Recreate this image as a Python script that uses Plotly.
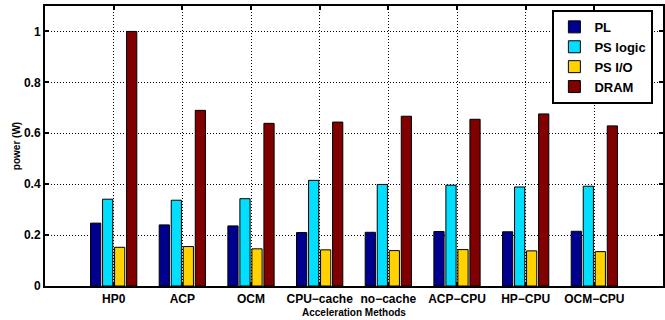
import plotly.graph_objects as go

categories = ["HP0", "ACP", "OCM", "CPU\u2212cache", "no\u2212cache", "ACP\u2212CPU", "HP\u2212CPU", "OCM\u2212CPU"]
x_pos = [1, 2, 3, 4, 5, 6, 7, 8]
pl = [0.247, 0.240, 0.236, 0.210, 0.211, 0.214, 0.213, 0.215]
ps_logic = [0.341, 0.337, 0.343, 0.415, 0.399, 0.396, 0.389, 0.392]
ps_io = [0.152, 0.155, 0.146, 0.142, 0.139, 0.143, 0.138, 0.135]
dram = [1.000, 0.690, 0.639, 0.644, 0.667, 0.655, 0.676, 0.629]
y_ticks = [0, 0.2, 0.4, 0.6, 0.8, 1]
y_labels = ["0", "0.2", "0.4", "0.6", "0.8", "1"]

series = [("PL", pl, "#00008F"), ("PS logic", ps_logic, "#00DFFF"),
          ("PS I/O", ps_io, "#FFD200"), ("DRAM", dram, "#800000")]

FONT = "Liberation Sans, Arial, sans-serif"
fig = go.Figure()
for name, vals, col in series:
    fig.add_trace(go.Bar(x=x_pos, y=vals, name="<b>%s</b>" % name,
                         marker=dict(color=col, line=dict(color="black", width=1))))

fig.update_layout(
    width=665, height=320,
    margin=dict(l=45, r=0, t=6, b=34),
    paper_bgcolor="white", plot_bgcolor="white",
    barmode="group", bargap=0.30, bargroupgap=0.15,
    font=dict(family=FONT, color="black"),
    legend=dict(x=0.821, y=0.986, xanchor="left", yanchor="top",
                bgcolor="white", bordercolor="black", borderwidth=2,
                font=dict(family=FONT, size=13, color="black"),
                tracegroupgap=0, itemwidth=30),
    showlegend=True,
    annotations=[dict(text="<b>Acceleration Methods</b>", xref="paper", yref="paper",
                      x=0.5, y=-0.093, xanchor="center", yanchor="middle", showarrow=False,
                      font=dict(family=FONT, size=10, color="black"))],
)
fig.update_xaxes(
    range=[0, 9], tickmode="array", tickvals=x_pos,
    ticktext=["<b>%s</b>" % c for c in categories],
    tickfont=dict(family=FONT, size=12, color="black"),
    ticks="inside", ticklen=4, tickwidth=2, tickcolor="black",
    ticklabelstandoff=1,
    showline=True, linecolor="black", linewidth=2, mirror="ticks",
    showgrid=True, gridcolor="black", griddash="1px,2px", gridwidth=1,
    zeroline=False,
)
fig.update_yaxes(
    range=[0, 1.1], tickmode="array", tickvals=y_ticks,
    ticktext=["<b>%s</b>" % t for t in y_labels],
    tickfont=dict(family=FONT, size=12, color="black"),
    ticks="inside", ticklen=4, tickwidth=2, tickcolor="black",
    showline=True, linecolor="black", linewidth=2, mirror="ticks",
    showgrid=True, gridcolor="black", griddash="1px,2px", gridwidth=1,
    zeroline=False,
    title=dict(text="<b>power (W)</b>", font=dict(family=FONT, size=10, color="black"), standoff=1),
)

fig.write_html("out.html", config={"displayModeBar": False},
               post_script="document.body.style.margin='0';")
